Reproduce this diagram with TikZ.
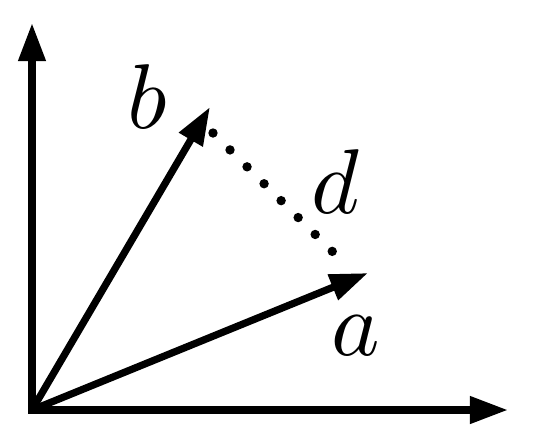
\documentclass[tikz,border=0pt]{standalone}
\usepackage{amsmath}
\usetikzlibrary{arrows.meta, calc}
\newcommand{\vecArrow}{{Triangle[length=19pt, width=13pt]}}

\begin{document}
\begin{tikzpicture}[x=0.5pt, y=-0.5pt, line width=3.6pt]
	\useasboundingbox (0,0) rectangle (538,447);
	\coordinate (O) at (32,410);
	\coordinate (X) at (508,410);
	\coordinate (Y) at (32,23);
	\coordinate (A) at (368,273);
	\coordinate (B) at (210,107);
	\coordinate (D1) at (213,133);
	\coordinate (D2) at (349,268);

	\draw[\vecArrow-\vecArrow, line join=miter]	(X) -- (O) -- (Y);

	\foreach \name in {A, B} {
		\draw[-\vecArrow]	(O) -- (\name);
	}

	\draw[line width=4.7pt, line cap=round, dash pattern=on 0pt off 12pt]	(D1) -- (D2);

	\foreach \name/\x/\y/\txt in {b/147/97/b, d/335/182/d, a/356/336/a} {
		\node[inner sep=0pt, scale=4.6] (\name) at (\x,\y) {$\txt$};
	}
\end{tikzpicture}
\end{document}
